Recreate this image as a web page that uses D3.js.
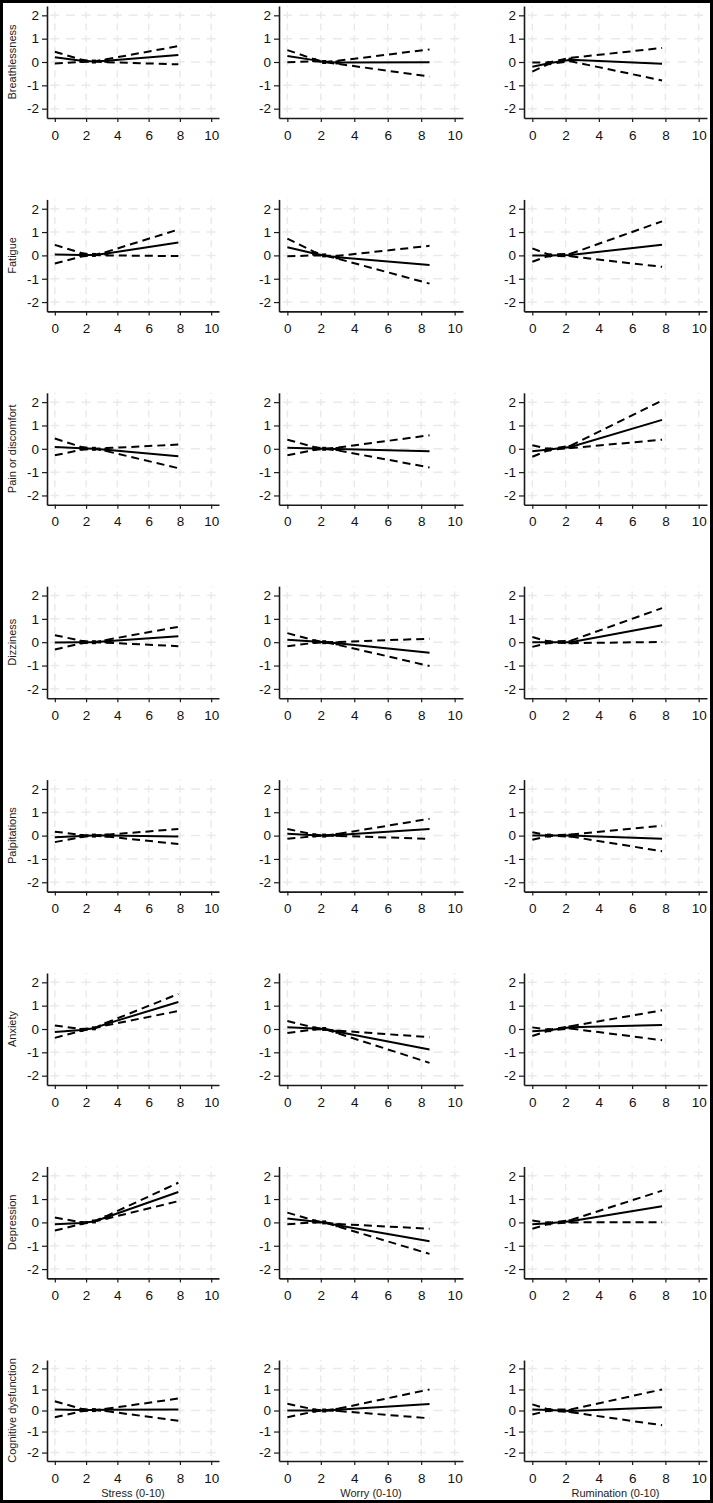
<!DOCTYPE html>
<html>
<head>
<meta charset="utf-8">
<script src="https://cdn.jsdelivr.net/npm/d3@7"></script>
<style>
  body { margin: 0; background: #fff; }
  svg { display: block; font-family: Arial, "Liberation Sans", Helvetica, sans-serif; }
</style>
</head>
<body>
<div id="chart"></div>
<script>
// rows = symptoms, columns = exposures
var symptoms = ["Breathlessness", "Fatigue", "Pain or discomfort", "Dizziness",
                "Palpitations", "Anxiety", "Depression", "Cognitive dysfunction"];
var exposures = ["Stress (0-10)", "Worry (0-10)", "Rumination (0-10)"];

var xTicks = [0, 2, 4, 6, 8, 10];
var yTicks = [-2, -1, 0, 1, 2];

// x positions where each curve is read (start, knots, end)
var stressX = [0, 1.7, 2.5, 3.3, 7.9];
var worryX = [0, 1.6, 2.2, 3.0, 8.5];
var ruminationX = [0, 1.0, 2.3, 7.8];

// Stress
var stressEst = [
  [0.20, 0.05, 0.02, 0.05, 0.30],
  [0.04, 0.02, 0.02, 0.08, 0.55],
  [0.08, 0.02, 0.00, -0.04, -0.32],
  [-0.01, 0.00, 0.00, 0.04, 0.25],
  [-0.07, -0.02, 0.00, 0.00, -0.04],
  [-0.13, -0.04, 0.03, 0.22, 1.16],
  [-0.08, -0.03, 0.04, 0.22, 1.30],
  [0.05, 0.02, 0.02, 0.03, 0.05]
];
var stressUpper = [
  [0.44, 0.10, 0.02, 0.12, 0.68],
  [0.45, 0.10, 0.02, 0.15, 1.11],
  [0.44, 0.08, 0.00, 0.03, 0.18],
  [0.30, 0.06, 0.00, 0.10, 0.66],
  [0.17, 0.03, 0.00, 0.04, 0.28],
  [0.15, 0.00, 0.03, 0.27, 1.50],
  [0.21, 0.00, 0.04, 0.27, 1.70],
  [0.44, 0.08, 0.02, 0.08, 0.57]
];
var stressLower = [
  [-0.06, 0.00, 0.02, -0.01, -0.10],
  [-0.35, -0.05, 0.02, 0.00, -0.03],
  [-0.28, -0.04, 0.00, -0.10, -0.83],
  [-0.31, -0.05, 0.00, -0.02, -0.17],
  [-0.28, -0.06, 0.00, -0.04, -0.36],
  [-0.38, -0.08, 0.03, 0.16, 0.77],
  [-0.35, -0.07, 0.04, 0.16, 0.91],
  [-0.32, -0.04, 0.02, -0.03, -0.49]
];

// Worry
var worryEst = [
  [0.26, 0.08, 0.00, -0.02, -0.01],
  [0.35, 0.08, 0.00, -0.08, -0.41],
  [0.04, 0.01, 0.00, -0.01, -0.10],
  [0.11, 0.03, 0.00, -0.05, -0.45],
  [0.08, 0.01, 0.00, 0.03, 0.28],
  [0.07, 0.02, 0.00, -0.12, -0.88],
  [0.17, 0.04, 0.00, -0.12, -0.81],
  [0.00, 0.00, 0.00, 0.03, 0.31]
];
var worryUpper = [
  [0.51, 0.12, 0.00, 0.05, 0.54],
  [0.72, 0.15, 0.00, -0.02, 0.41],
  [0.39, 0.08, 0.00, 0.05, 0.58],
  [0.39, 0.08, 0.00, 0.01, 0.15],
  [0.28, 0.05, 0.00, 0.07, 0.72],
  [0.34, 0.06, 0.00, -0.07, -0.35],
  [0.42, 0.08, 0.00, -0.07, -0.27],
  [0.32, 0.05, 0.00, 0.08, 1.00]
];
var worryLower = [
  [-0.01, 0.03, 0.00, -0.08, -0.62],
  [-0.04, 0.00, 0.00, -0.14, -1.21],
  [-0.28, -0.05, 0.00, -0.07, -0.80],
  [-0.17, -0.03, 0.00, -0.11, -1.02],
  [-0.14, -0.03, 0.00, -0.01, -0.14],
  [-0.17, -0.02, 0.00, -0.18, -1.45],
  [-0.08, 0.00, 0.00, -0.17, -1.35],
  [-0.32, -0.05, 0.00, -0.02, -0.37]
];

// Rumination
var ruminationEst = [
  [-0.20, -0.05, 0.10, -0.07],
  [0.00, 0.00, 0.02, 0.46],
  [-0.10, -0.03, 0.08, 1.24],
  [0.00, 0.00, 0.00, 0.73],
  [0.00, 0.00, 0.00, -0.14],
  [-0.10, -0.05, 0.07, 0.17],
  [-0.08, -0.04, 0.05, 0.69],
  [0.05, 0.02, -0.02, 0.15]
];
var ruminationUpper = [
  [-0.02, -0.02, 0.18, 0.60],
  [0.30, 0.03, 0.07, 1.46],
  [0.15, -0.01, 0.13, 2.07],
  [0.22, 0.02, 0.06, 1.46],
  [0.14, 0.01, 0.05, 0.42],
  [0.07, -0.03, 0.12, 0.80],
  [0.08, -0.02, 0.10, 1.36],
  [0.29, 0.04, 0.05, 1.00]
];
var ruminationLower = [
  [-0.41, -0.08, 0.03, -0.79],
  [-0.27, -0.02, -0.04, -0.49],
  [-0.34, -0.05, 0.03, 0.39],
  [-0.20, -0.02, -0.04, 0.01],
  [-0.18, -0.01, -0.04, -0.67],
  [-0.30, -0.07, 0.02, -0.48],
  [-0.27, -0.06, 0.00, 0.01],
  [-0.19, 0.00, -0.08, -0.70]
];

var series = [
  {xs: stressX, est: stressEst, up: stressUpper, lo: stressLower},
  {xs: worryX, est: worryEst, up: worryUpper, lo: worryLower},
  {xs: ruminationX, est: ruminationEst, up: ruminationUpper, lo: ruminationLower}
];

var width = 713, height = 1503;

var svg = d3.select("#chart").append("svg")
    .attr("width", width)
    .attr("height", height);

svg.append("rect")
    .attr("x", 1.5).attr("y", 1.5)
    .attr("width", width - 3).attr("height", height - 3)
    .attr("fill", "#fff")
    .attr("stroke", "#000")
    .attr("stroke-width", 3);

// plot region of each column / row
var cols = [[47, 219], [279, 463], [524, 707]];
function rowBox(r) {
  if (r < 7) {
    var z = 62 + r * 193.4;
    return [z + 56, z - 56];
  }
  return [1461, 1360];  // bottom row is shorter (x titles)
}

var gridColor = "#eaeaea";

symptoms.forEach(function(sym, r) {
  exposures.forEach(function(expo, c) {
    var s = series[c];
    var box = rowBox(r);
    var x = d3.scaleLinear().domain([-0.5, 10.5]).range(cols[c]);
    var y = d3.scaleLinear().domain([-2.4, 2.4]).range(box);
    var g = svg.append("g");

    // grid
    var stepX = x(1) - x(0);
    var hDash = 9;
    g.selectAll(".hgrid").data(yTicks).enter().append("line")
        .attr("x1", cols[c][0]).attr("x2", cols[c][1])
        .attr("y1", function(d) { return y(d); })
        .attr("y2", function(d) { return y(d); })
        .attr("stroke", gridColor).attr("stroke-width", 1.5)
        .attr("stroke-dasharray", hDash + "," + (stepX - hDash))
        .attr("stroke-dashoffset", -(x(0) - cols[c][0] - hDash / 2));

    var stepY = (y(0) - y(1)) / 2;
    var vDash = 7;
    g.selectAll(".vgrid").data(xTicks).enter().append("line")
        .attr("x1", function(d) { return x(d); })
        .attr("x2", function(d) { return x(d); })
        .attr("y1", box[0]).attr("y2", box[1])
        .attr("stroke", gridColor).attr("stroke-width", 1.5)
        .attr("stroke-dasharray", vDash + "," + (stepY - vDash))
        .attr("stroke-dashoffset", -(box[0] - y(-2) - vDash / 2));

    // axes
    var xa = g.append("g")
        .attr("transform", "translate(0," + box[0] + ")")
        .call(d3.axisBottom(x).tickValues(xTicks).tickSize(4).tickSizeOuter(0).tickPadding(8));
    var ya = g.append("g")
        .attr("transform", "translate(" + cols[c][0] + ",0)")
        .call(d3.axisLeft(y).tickValues(yTicks).tickSize(5).tickSizeOuter(0).tickPadding(3)
              .tickFormat(d3.format("d")));
    [xa, ya].forEach(function(a) {
      a.select(".domain").attr("stroke", "#1a1a1a").attr("stroke-width", 1.6);
      a.selectAll(".tick line").attr("stroke", "#1a1a1a").attr("stroke-width", 1.2);
      a.selectAll(".tick text").attr("fill", "#111").style("font-size", "13.5px")
          .style("font-family", "Arial, 'Liberation Sans', sans-serif");
    });
    ya.selectAll(".tick text").text(function(d) { return d < 0 ? "-" + Math.abs(d) : d; });

    // curves
    var line = d3.line()
        .x(function(d, i) { return x(s.xs[i]); })
        .y(function(d) { return y(d); });

    [s.up[r], s.lo[r]].forEach(function(vals) {
      g.append("path").datum(vals)
          .attr("d", line)
          .attr("fill", "none")
          .attr("stroke", "#000")
          .attr("stroke-width", 2)
          .attr("stroke-dasharray", "8,5");
    });
    g.append("path").datum(s.est[r])
        .attr("d", line)
        .attr("fill", "none")
        .attr("stroke", "#000")
        .attr("stroke-width", 2);

    // knot markers
    var knots = s.xs.slice(1, -1);
    g.selectAll(".knot").data(knots).enter().append("rect")
        .attr("x", function(d) { return x(d) - 2; })
        .attr("y", function(d, i) { return y(s.est[r][i + 1]) - 2; })
        .attr("width", 4).attr("height", 4)
        .attr("fill", "#000");

    // titles
    if (c === 0) {
      g.append("text")
          .attr("transform", "translate(16," + ((box[0] + box[1]) / 2) + ") rotate(-90)")
          .attr("text-anchor", "middle")
          .style("font-size", "11px")
          .attr("fill", "#222")
          .text(sym);
    }
    if (r === symptoms.length - 1) {
      g.append("text")
          .attr("x", (cols[c][0] + cols[c][1]) / 2)
          .attr("y", 1497)
          .attr("text-anchor", "middle")
          .style("font-size", "11px")
          .attr("fill", "#222")
          .text(expo);
    }
  });
});
</script>
</body>
</html>
